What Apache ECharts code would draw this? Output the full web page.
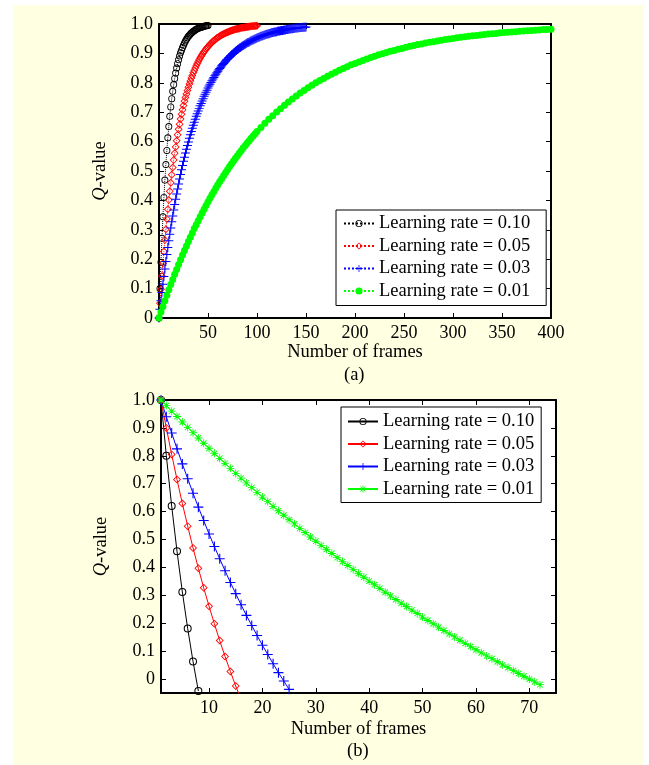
<!DOCTYPE html>
<html><head><meta charset="utf-8">
<script src="https://cdn.jsdelivr.net/npm/echarts@6/dist/echarts.min.js"></script>
<style>html,body{margin:0;padding:0;background:#fff}#c{width:649px;height:765px}</style>
</head><body><div id="c"></div>
<script>
// ---------- data ----------
const rates = ['0.10', '0.05', '0.03', '0.01'];

// (a) Q-value vs frame, frame = index (0..N)
const topBlack = [0,.100,.190,.271,.344,.410,.469,.522,.570,.613,.651,.686,.718,.746,.771,.794,.815,.833,.850,.865,.878,.891,.902,.911,.920,.928,.935,.942,.948,.953,.958,.962,.966,.969,.972,.975,.977,.980,.982,.984,.985,.987,.988,.989,.990,.991,.992,.993,.994,.994,.995];
const topRed = [0,.050,.098,.143,.186,.226,.265,.302,.337,.370,.401,.431,.460,.487,.512,.537,.560,.582,.603,.623,.642,.659,.677,.693,.708,.723,.737,.750,.762,.774,.785,.796,.806,.816,.825,.834,.842,.850,.858,.865,.872,.878,.884,.890,.895,.901,.906,.910,.915,.919,.923,.927,.931,.934,.937,.941,.943,.946,.949,.952,.954,.956,.958,.961,.963,.964,.966,.968,.969,.971,.972,.974,.975,.976,.978,.979,.980,.981,.982,.983,.984,.984,.985,.986,.987,.987,.988,.988,.989,.990,.990,.991,.991,.992,.992,.992,.993,.993,.993,.994,.994];
const topBlue = [0,.030,.059,.087,.115,.141,.167,.192,.216,.240,.263,.285,.306,.327,.347,.367,.386,.404,.422,.439,.456,.473,.488,.504,.519,.533,.547,.561,.574,.587,.599,.611,.623,.634,.645,.656,.666,.676,.686,.695,.704,.713,.722,.730,.738,.746,.754,.761,.768,.775,.782,.789,.795,.801,.807,.813,.818,.824,.829,.834,.839,.844,.849,.853,.858,.862,.866,.870,.874,.878,.881,.885,.888,.892,.895,.898,.901,.904,.907,.910,.913,.915,.918,.920,.923,.925,.927,.929,.931,.934,.936,.937,.939,.941,.943,.945,.946,.948,.949,.951,.952,.954,.955,.957,.958,.959,.960,.962,.963,.964,.965,.966,.967,.968,.969,.970,.971,.972,.973,.973,.974,.975,.976,.976,.977,.978,.978,.979,.980,.980,.981,.981,.982,.983,.983,.984,.984,.985,.985,.986,.986,.986,.987,.987,.988,.988,.988,.989,.989,.989,.990];
const topGreenFrames = [0,2,4,6,8,10,12,14,16,18,20,22,24,26,28,30,32,34,36,38,40,42,44,46,48,50,52,54,56,58,60,62,64,66,68,70,72,74,76,78,80,82,84,86,88,90,92,94,96,98,100,104,108,112,116,120,124,128,132,136,140,144,148,152,156,160,164,168,172,176,180,184,188,192,196,200,204,208,212,216,220,224,228,232,236,240,244,248,252,256,260,264,268,272,276,280,284,288,292,296,300,304,308,312,316,320,324,328,332,336,340,344,348,352,356,360,364,368,372,376,380,384,388,392,396,400];
const topGreen = [0,.020,.039,.059,.077,.096,.114,.131,.149,.165,.182,.198,.214,.230,.245,.260,.275,.289,.304,.317,.331,.344,.357,.370,.383,.395,.407,.419,.430,.442,.453,.464,.474,.485,.495,.505,.515,.525,.534,.543,.552,.561,.570,.579,.587,.595,.603,.611,.619,.627,.634,.648,.662,.676,.688,.701,.712,.724,.735,.745,.755,.765,.774,.783,.792,.800,.808,.815,.822,.829,.836,.843,.849,.855,.861,.866,.871,.876,.881,.886,.890,.895,.899,.903,.907,.910,.914,.917,.921,.924,.927,.930,.932,.935,.938,.940,.942,.945,.947,.949,.951,.953,.955,.957,.958,.960,.961,.963,.964,.966,.967,.968,.970,.971,.972,.973,.974,.975,.976,.977,.978,.979,.980,.981,.981,.982];

// (b) Q-value vs frame, frame = index + 1
const botBlack = [1.000,.800,.620,.458,.312,.181,.063,-.043];
const botRed = [1.000,.900,.805,.715,.629,.548,.470,.397,.327,.261,.198,.138,.081,.027,-.025,-.073];
const botBlue = [1.000,.940,.882,.825,.771,.718,.666,.616,.568,.520,.475,.431,.388,.346,.306,.266,.228,.192,.156,.121,.088,.055,.023,-.007,-.037];
const botGreen = [1.000,.980,.960,.941,.921,.902,.883,.864,.845,.827,.809,.791,.773,.755,.737,.720,.703,.686,.669,.652,.636,.619,.603,.587,.571,.556,.540,.525,.509,.494,.479,.465,.450,.435,.421,.407,.393,.379,.365,.351,.338,.325,.311,.298,.285,.272,.260,.247,.235,.222,.210,.198,.186,.174,.162,.151,.139,.128,.117,.105,.094,.083,.073,.062,.051,.041,.030,.020,.010,.000,-.010,-.020];

const yTickValues = [0,0.1,0.2,0.3,0.4,0.5,0.6,0.7,0.8,0.9,1.0];
const botXTickValues = [10,20,30,40,50,60,70];

// ---------- styles ----------
const FONT = 'Liberation Serif';
const COL = ['#000000', '#ff0000', '#0000ff', '#00ff00'];
const RING = 'path://M10,0A10,10 0 1,1 -10,0A10,10 0 1,1 10,0Z M7.4,0A7.4,7.4 0 1,0 -7.4,0A7.4,7.4 0 1,0 7.4,0Z';
const DIAM = 'path://M0,-10L10,0L0,10L-10,0Z M0,-7L-7,0L0,7L7,0Z';
const PLUS = 'path://M-1.1,-10L1.1,-10L1.1,-1.1L10,-1.1L10,1.1L1.1,1.1L1.1,10L-1.1,10L-1.1,1.1L-10,1.1L-10,-1.1L-1.1,-1.1Z';
const STAR = PLUS + ' M-6.29,-7.85L7.85,6.29L6.29,7.85L-7.85,-6.29Z M-7.85,6.29L6.29,-7.85L7.85,-6.29L-6.29,7.85Z';

const chart = echarts.init(document.getElementById('c'), null, {renderer: 'canvas'});

const axisLine = {show: true, onZero: false, lineStyle: {color: '#000', width: 2}};
const tickStyle = {lineStyle: {color: '#000', width: 1}};
const labelFont = {fontFamily: FONT, fontSize: 18, color: '#000'};
const nameFont = {fontFamily: FONT, fontSize: 18.5, color: '#000',
  rich: {q: {fontFamily: FONT, fontSize: 18.5, fontStyle: 'italic', color: '#000'}}};
const yFmt = v => (Math.abs(v) < 1e-9 ? '0' : v.toFixed(1));

function series(name, data, color, symbol, size, lineType, gi) {
  return {
    type: 'line', name, data, xAxisIndex: gi * 2, yAxisIndex: gi * 2,
    symbol, symbolSize: size, showSymbol: true, showAllSymbol: true,
    lineStyle: {color, width: 1, type: lineType},
    itemStyle: {color},
    emphasis: {disabled: true}, z: 3, clip: true
  };
}
const idx = (arr, off) => arr.map((q, i) => [i + off, q]);
const botData = (arr) => arr.map((q, i) => (q < -0.05 ? {value: [i + 1, q], symbol: 'none'} : [i + 1, q]));

const seriesList = [
  series('a|0.10', idx(topBlack, 0), COL[0], RING, 7, 'dotted', 0),
  series('a|0.05', idx(topRed, 0), COL[1], DIAM, 8, 'dotted', 0),
  series('a|0.03', idx(topBlue, 0), COL[2], PLUS, 9, 'dotted', 0),
  series('a|0.01', topGreen.map((q, i) => [topGreenFrames[i], q]), COL[3], 'circle', 7, 'dotted', 0),
  series('b|0.10', botData(botBlack), COL[0], RING, 8, 'solid', 1),
  series('b|0.05', botData(botRed), COL[1], DIAM, 8, 'solid', 1),
  series('b|0.03', botData(botBlue), COL[2], PLUS, 10, 'solid', 1),
  series('b|0.01', botData(botGreen), COL[3], STAR, 8, 'solid', 1)
];

const legendBase = {
  orient: 'vertical', itemWidth: 30, itemHeight: 9, itemGap: 3.5,
  backgroundColor: '#fff', borderColor: '#000', borderWidth: 1, borderRadius: 0,
  textStyle: {fontFamily: FONT, fontSize: 18.5, color: '#000'},
  formatter: n => 'Learning rate = ' + n.split('|')[1],
  selectedMode: false
};

const option = {
  animation: false,
  backgroundColor: '#ffffff',
  graphic: [
    {type: 'rect', z: -100, silent: true, shape: {x: 13, y: 5, width: 630, height: 760}, style: {fill: '#ffffe1'}},
    {type: 'text', z: 10, left: 344, top: 366, style: {text: '(a)', font: '18.5px "Liberation Serif"', fill: '#000'}},
    {type: 'text', z: 10, left: 347, top: 742, style: {text: '(b)', font: '18.5px "Liberation Serif"', fill: '#000'}}
  ],
  grid: [
    {left: 159, top: 24, width: 392, height: 294, show: true, backgroundColor: '#fff', borderWidth: 0},
    {left: 161, top: 400, width: 395, height: 293, show: true, backgroundColor: '#fff', borderWidth: 0}
  ],
  legend: [
    Object.assign({}, legendBase, {left: 336, top: 210, padding: [4, 16, 5, 7], data: rates.map(r => 'a|' + r)}),
    Object.assign({}, legendBase, {left: 341, top: 407, padding: [5, 7, 4, 6], data: rates.map(r => 'b|' + r)})
  ],
  xAxis: [
    {gridIndex: 0, type: 'value', min: 0, max: 400, interval: 50, position: 'bottom',
     axisLine, axisTick: Object.assign({inside: true, length: 5}, tickStyle),
     axisLabel: Object.assign({showMinLabel: false, margin: 6}, labelFont), splitLine: {show: false},
     name: 'Number of frames', nameLocation: 'middle', nameGap: 25, nameTextStyle: nameFont},
    {gridIndex: 0, type: 'value', min: 0, max: 400, interval: 50, position: 'top',
     axisLine, axisTick: Object.assign({inside: true, length: 5}, tickStyle),
     axisLabel: {show: false}, splitLine: {show: false}},
    {gridIndex: 1, type: 'value', min: 1, max: 75, position: 'bottom',
     axisLine, axisTick: Object.assign({inside: true, length: 5, customValues: botXTickValues}, tickStyle),
     axisLabel: Object.assign({margin: 6, customValues: botXTickValues}, labelFont), splitLine: {show: false},
     name: 'Number of frames', nameLocation: 'middle', nameGap: 27, nameTextStyle: nameFont},
    {gridIndex: 1, type: 'value', min: 1, max: 75, position: 'top',
     axisLine, axisTick: Object.assign({inside: true, length: 5, customValues: botXTickValues}, tickStyle),
     axisLabel: {show: false}, splitLine: {show: false}}
  ],
  yAxis: [
    {gridIndex: 0, type: 'value', min: 0, max: 1, position: 'left',
     axisLine, axisTick: Object.assign({inside: true, length: 5, customValues: yTickValues}, tickStyle),
     axisLabel: Object.assign({margin: 6, formatter: yFmt, customValues: yTickValues}, labelFont), splitLine: {show: false},
     name: '{q|Q}-value', nameLocation: 'middle', nameGap: 49, nameRotate: 90, nameTextStyle: nameFont},
    {gridIndex: 0, type: 'value', min: 0, max: 1, position: 'right',
     axisLine, axisTick: Object.assign({inside: true, length: 5, customValues: yTickValues}, tickStyle),
     axisLabel: {show: false}, splitLine: {show: false}},
    {gridIndex: 1, type: 'value', min: -0.05, max: 1, position: 'left',
     axisLine, axisTick: Object.assign({inside: true, length: 5, customValues: yTickValues}, tickStyle),
     axisLabel: Object.assign({margin: 6, formatter: yFmt, customValues: yTickValues}, labelFont), splitLine: {show: false},
     name: '{q|Q}-value', nameLocation: 'middle', nameGap: 50, nameRotate: 90, nameTextStyle: nameFont},
    {gridIndex: 1, type: 'value', min: -0.05, max: 1, position: 'right',
     axisLine, axisTick: Object.assign({inside: true, length: 5, customValues: yTickValues}, tickStyle),
     axisLabel: {show: false}, splitLine: {show: false}}
  ],
  series: seriesList
};
chart.setOption(option);
</script>
</body></html>
